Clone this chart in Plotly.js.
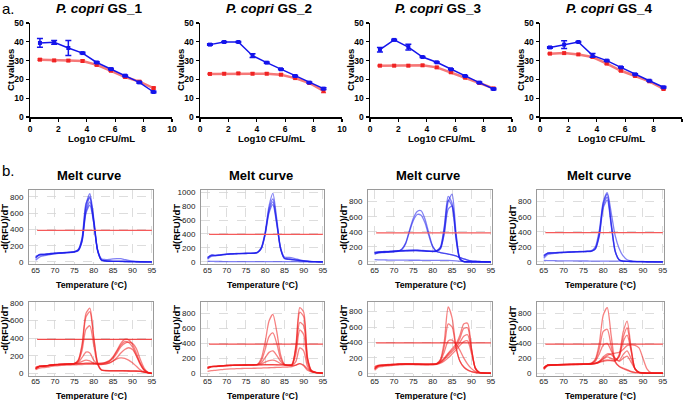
<!DOCTYPE html>
<html><head><meta charset="utf-8">
<script src="https://cdn.plot.ly/plotly-3.0.1.min.js"></script>
<style>html,body{margin:0;padding:0;background:#fff}#chart{width:685px;height:400px}</style>
</head><body><div id="chart"></div>
<script>
// ---------- Data: panel a (Ct values vs Log10 CFU/mL) ----------
const CFU = [0.7,1.7,2.7,3.7,4.7,5.7,6.7,7.7,8.7];
const gsNames = ['GS_1','GS_2','GS_3','GS_4'];
const ctBlue1 = [39.4,39.7,36.7,34.0,29.0,25.5,22.0,18.4,13.3];
const errBlue1 = [2.3,1.0,4.0,0.4,0.4,0.4,0.4,0.4,0.4];
const ctRed1 = [30.5,30.1,30.0,29.8,27.7,24.6,21.3,18.8,15.4];
const errRed1 = [0.4,0.4,0.4,0.4,0.4,0.4,0.4,0.4,0.5];
const ctBlue2 = [38.5,39.9,39.9,32.6,28.9,25.4,21.8,18.3,15.1];
const errBlue2 = [0.4,0.3,0.3,1.0,0.3,0.3,0.4,0.3,0.5];
const ctRed2 = [22.9,23.0,23.2,23.0,23.0,22.5,20.7,18.1,13.9];
const errRed2 = [0.3,0.3,0.3,0.3,0.3,0.4,0.3,0.3,1.0];
const ctBlue3 = [35.8,41.0,37.2,31.9,29.1,25.4,21.8,18.3,14.9];
const errBlue3 = [1.2,0.3,1.5,0.3,0.3,0.3,0.3,0.3,0.4];
const ctRed3 = [27.3,27.3,27.3,27.5,26.4,23.8,20.9,18.1,15.2];
const errRed3 = [0.3,0.3,0.3,0.3,0.3,0.3,0.3,0.3,0.3];
const ctBlue4 = [37.0,38.5,39.9,32.8,30.0,26.4,22.7,19.3,15.8];
const errBlue4 = [0.4,2.0,0.3,1.0,0.3,0.3,0.3,0.3,0.4];
const ctRed4 = [33.7,34.0,33.3,31.9,28.4,24.6,21.8,19.0,14.9];
const errRed4 = [0.3,0.3,0.3,0.3,0.3,0.3,0.3,0.3,0.4];

// ---------- Data: panel b (melt curves, -d(RFU)/dT vs temperature) ----------
const T = [65,66,67,68,69,70,71,72,73,74,75,76,77,78,79,80,81,82,83,84,85,86,87,88,89,90,91,92,93,94,95];
const meltBlue1 = [
 [45,95,95,100,105, 110,112,115,118,122, 128,150,290,700,840, 540,150,25,15,10, 8,8,8,7,6, 5,4,3,2,1, 0],
 [60,90,92,98,104, 108,111,114,117,120, 126,145,270,660,790, 520,145,24,14,10, 8,8,7,6,5, 4,3,3,2,1, 0],
 [70,88,90,95,100, 106,110,112,115,118, 124,140,260,620,740, 500,140,23,14,9, 8,7,7,6,5, 4,3,2,2,1, 0],
 [50,85,88,93,98, 104,108,110,113,116, 122,138,250,600,700, 480,135,22,13,9, 7,7,6,5,5, 4,3,2,1,1, 0],
 [20,60,75,85,95, 100,105,110,115,118, 124,150,300,720,800, 480,150,40,30,32, 38,42,40,30,20, 12,8,5,3,2, 1]
];
const meltBlue2 = [
 [50,100,95,100,108, 115,118,120,122,124, 125,126,128,140,210, 430,800,980,620,200, 55,45,38,30,22, 15,10,7,5,3, 2],
 [60,95,93,98,105, 112,116,118,120,122, 123,124,126,138,200, 410,760,900,580,190, 50,40,34,27,20, 14,9,6,4,3, 2],
 [70,92,92,97,104, 110,114,116,118,120, 121,122,124,135,195, 400,730,860,560,180, 48,38,32,25,18, 12,8,5,4,2, 1],
 [40,80,88,95,102, 108,112,115,118,120, 121,122,124,134,190, 390,700,820,540,200, 70,65,60,45,30, 18,10,6,4,2, 1],
 [10,8,7,7,6, 6,6,5,5,5, 5,5,5,5,5, 5,5,5,5,5, 4,4,4,4,3, 3,3,2,2,1, 0]
];
const meltBlue3 = [
 [120,125,128,130,133, 138,145,170,250,420, 580,670,680,570,380, 210,140,125,115,105, 95,80,60,40,25, 15,10,6,4,2, 1],
 [110,120,124,127,130, 135,142,165,240,400, 550,630,620,520,350, 200,140,125,115,105, 95,80,60,40,25, 15,10,6,4,2, 1],
 [130,135,138,140,143, 146,150,152,155,158, 160,160,155,150,145, 142,150,200,480,870, 780,330,40,5,3, 2,1,1,0,0, 0],
 [125,132,135,137,140, 143,146,148,150,152, 153,153,150,147,143, 140,148,190,450,820, 740,310,35,5,3, 2,1,1,0,0, 0],
 [120,130,133,135,138, 141,144,146,148,150, 151,151,148,145,142, 140,145,180,400,800, 900,400,50,6,3, 2,1,1,0,0, 0],
 [100,125,130,133,136, 139,142,144,146,148, 149,149,146,143,140, 138,142,175,380,700, 740,360,45,6,3, 2,1,1,0,0, 0],
 [30,28,27,26,25, 25,24,24,24,23, 23,23,22,22,22, 21,21,20,20,20, 18,15,10,6,4, 3,2,1,0,0, 0]
];
const meltBlue4 = [
 [70,120,122,125,128, 130,133,135,137,139, 140,142,145,180,380, 780,900,520,150,30, 10,8,6,5,4, 4,3,2,2,1, 1],
 [80,118,120,123,126, 128,131,133,135,137, 138,140,143,175,360, 750,860,500,140,28, 10,8,6,5,4, 4,3,2,2,1, 1],
 [90,115,118,121,124, 126,129,131,133,135, 136,138,141,170,340, 720,820,480,135,25, 9,7,6,5,4, 3,3,2,1,1, 1],
 [50,100,110,115,120, 124,128,130,133,136, 138,142,150,200,420, 800,920,650,350,180, 80,30,15,8,5, 4,3,2,1,1, 0],
 [20,18,17,16,15, 15,14,14,14,13, 13,13,12,12,12, 12,11,11,11,10, 10,9,9,8,7, 6,5,4,3,2, 1]
];
const meltRed1 = [
 [60,80,82,88,95, 100,102,104,106,108, 112,150,330,680,740, 420,120,40,32,30, 30,30,30,29,28, 27,26,24,15,5, 0],
 [50,75,80,86,92, 98,100,102,104,106, 110,145,310,640,700, 400,115,38,30,28, 28,28,28,27,26, 25,24,22,14,5, 0],
 [55,78,80,86,92, 98,100,102,104,106, 110,135,260,500,540, 320,100,35,30,28, 28,28,28,27,26, 25,24,22,14,5, 0],
 [50,80,82,88,94, 99,101,103,105,107, 110,125,180,240,230, 150,105,100,105,115, 140,180,230,270,290, 270,200,110,40,10, 0],
 [55,78,80,86,92, 97,99,101,103,105, 108,115,135,150,140, 115,105,105,115,135, 180,250,320,360,350, 300,200,100,35,8, 0],
 [70,82,84,88,94, 98,100,102,104,106, 108,110,112,115,115, 114,113,115,125,145, 190,260,340,385,380, 330,230,120,40,8, 0],
 [65,80,82,86,92, 96,98,100,102,104, 106,108,110,112,112, 112,111,112,120,135, 170,230,300,340,355, 340,280,160,60,12, 0],
 [40,60,65,70,78, 84,88,90,92,94, 96,98,100,102,103, 103,103,104,108,118, 140,165,175,170,150, 120,80,40,15,5, 0]
];
const meltRed2 = [
 [60,90,92,96,100, 104,106,108,109,110, 111,112,113,120,200, 420,700,790,560,250, 120,105,102,110,130, 100,40,20,12,6, 2],
 [70,88,90,94,98, 102,104,106,107,108, 109,110,111,118,170, 320,490,540,400,200, 115,105,105,160,340, 300,90,25,12,6, 2],
 [65,88,90,94,98, 102,104,106,107,108, 109,110,111,115,140, 210,280,300,240,160, 115,108,110,260,580, 520,140,30,12,6, 2],
 [80,90,92,96,100, 104,106,108,109,110, 111,112,112,114,125, 150,170,175,160,130, 112,108,115,350,820, 760,200,35,12,6, 2],
 [85,92,94,98,102, 106,108,110,111,112, 113,113,113,113,114, 115,115,115,114,113, 112,110,120,380,880, 820,220,40,14,6, 2],
 [75,90,92,96,100, 104,106,108,109,110, 111,112,112,112,113, 114,114,114,113,112, 111,109,118,330,680, 640,190,35,12,6, 2],
 [25,35,40,45,50, 55,58,60,62,64, 65,66,67,68,70, 72,74,76,78,80, 82,84,90,110,130, 110,60,25,10,5, 1]
];
const meltRed3 = [
 [60,100,105,108,112, 115,118,120,122,122, 121,120,118,117,117, 118,125,180,420,860, 720,350,160,80,40, 20,10,5,3,1, 0],
 [70,98,103,106,110, 113,116,118,120,120, 119,118,116,115,115, 116,122,170,350,640, 600,330,160,85,45, 22,10,5,3,1, 0],
 [50,95,100,104,108, 111,114,116,118,118, 117,116,115,114,114, 115,120,160,280,420, 430,380,300,200,120, 60,25,10,4,1, 0],
 [90,105,108,112,115, 118,120,122,123,123, 122,121,120,119,119, 120,125,150,200,260, 320,380,490,640,650, 330,60,10,4,1, 0],
 [80,100,104,108,112, 115,118,120,121,121, 120,119,118,117,117, 118,123,145,190,250, 300,360,450,580,590, 320,60,10,4,1, 0],
 [60,95,100,104,108, 111,114,116,117,117, 116,115,114,113,113, 114,120,140,180,230, 280,330,400,480,500, 300,70,12,4,1, 0],
 [40,80,88,94,100, 104,108,110,112,112, 111,110,109,108,108, 110,115,130,160,200, 250,300,360,410,420, 260,70,14,4,1, 0]
];
const meltRed4 = [
 [60,110,112,115,117, 118,120,121,122,123, 124,126,135,190,400, 780,880,500,160,90, 60,40,20,10,5, 3,2,1,0,0, 0],
 [70,108,110,113,115, 116,118,119,120,121, 122,124,132,175,330, 560,590,360,150,95, 70,50,25,12,5, 3,2,1,0,0, 0],
 [65,105,108,111,113, 114,116,117,118,119, 120,122,128,160,260, 380,400,300,200,160, 200,230,150,60,15, 5,2,1,0,0, 0],
 [80,112,114,116,118, 120,121,122,123,124, 125,126,128,135,150, 170,180,175,170,250, 550,700,350,60,10, 4,2,1,0,0, 0],
 [75,110,112,114,116, 118,119,120,121,122, 123,124,126,132,145, 160,170,168,165,230, 480,610,320,55,10, 4,2,1,0,0, 0],
 [70,108,110,112,114, 116,117,118,119,120, 121,122,124,130,150, 190,220,200,180,220, 420,510,300,60,12, 4,2,1,0,0, 0],
 [50,100,105,108,110, 112,114,115,116,117, 118,120,124,135,160, 200,240,260,270,280, 320,370,380,375,340, 200,60,10,2,0, 0],
 [60,105,108,110,112, 114,115,116,117,118, 119,120,122,130,160, 220,260,250,200,170, 250,300,200,60,12, 4,2,1,0,0, 0]
];
const thresholdTop = [390,395,385,390];
const thresholdBottom = [385,390,395,390];
const thresholdX = [65.4,95];

// ---------- Layout helpers ----------
const W = 685, H = 400;
const FONT = 'Arial, "Liberation Sans", sans-serif';
const fx = p => p / W;
const fy = p => 1 - p / H;

const lineDom = [[30,172],[200,342],[370,512],[540,682]];
const meltDom = [[29,153],[201,324],[368,492],[537,664]];
const lineY = [23,117];
const meltTopY = [190,264];
const meltBotY = [302,375.5];
const meltTopRange = [[-25,886],[-29,1029],[-27,955],[-27,955]];
const meltBotRange = [[-25,810],[-30,955],[-29,925],[-30,955]];

const ctB = [ctBlue1,ctBlue2,ctBlue3,ctBlue4];
const ctBe = [errBlue1,errBlue2,errBlue3,errBlue4];
const ctR = [ctRed1,ctRed2,ctRed3,ctRed4];
const ctRe = [errRed1,errRed2,errRed3,errRed4];
const meltTop = [meltBlue1,meltBlue2,meltBlue3,meltBlue4];
const meltBot = [meltRed1,meltRed2,meltRed3,meltRed4];

const BLUE = 'rgb(20,20,235)';
const RED = 'rgb(240,35,35)';
const traces = [];
const layout = {
  width: W, height: H, margin: {l:0,r:0,t:0,b:0},
  paper_bgcolor: '#fff', plot_bgcolor: '#fff', showlegend: false,
  font: {family: FONT, color: '#000'},
  annotations: []
};
const ann = (text, xpx, ypx, size, extra) => layout.annotations.push(Object.assign({
  text, x: fx(xpx), y: fy(ypx), xref: 'paper', yref: 'paper', showarrow: false,
  xanchor: 'center', yanchor: 'middle', font: {family: FONT, size, color: '#000'}
}, extra || {}));

for (let i = 0; i < 4; i++) {
  // line chart subplot
  const n = i + 1;
  const xa = 'x' + (n === 1 ? '' : n), ya = 'y' + (n === 1 ? '' : n);
  const common = {showline: true, linecolor: '#000', linewidth: 1.5, ticks: 'outside', ticklen: 3,
    tickwidth: 1.2, tickcolor: '#000', showgrid: false, zeroline: false,
    tickfont: {family: FONT, size: 8.5, weight: 'bold', color: '#000'}};
  layout['xaxis' + (n === 1 ? '' : n)] = Object.assign({}, common, {domain: [fx(lineDom[i][0]), fx(lineDom[i][1])],
    range: [0,10], dtick: 2, tick0: 0, anchor: ya});
  layout['yaxis' + (n === 1 ? '' : n)] = Object.assign({}, common, {domain: [fy(lineY[1]), fy(lineY[0])],
    range: [0,50], dtick: 10, tick0: 0, anchor: xa});
  traces.push({x: CFU, y: ctR[i], xaxis: xa, yaxis: ya, mode: 'lines+markers', hoverinfo: 'skip',
    line: {color: 'rgb(246,120,120)', width: 2.5}, marker: {symbol: 'square', size: 4, color: RED},
    error_y: {type: 'data', array: ctRe[i], color: RED, thickness: 1.2, width: 2.5}, cliponaxis: false});
  traces.push({x: CFU, y: ctB[i], xaxis: xa, yaxis: ya, mode: 'lines+markers', hoverinfo: 'skip',
    line: {color: BLUE, width: 1.5}, marker: {symbol: 'square', size: 4, color: BLUE},
    error_y: {type: 'data', array: ctBe[i], color: BLUE, thickness: 1.5, width: 3}, cliponaxis: false});
  const cx = (lineDom[i][0] + lineDom[i][1]) / 2;
  ann('<b><i>P. copri</i> ' + gsNames[i] + '</b>', cx - 2, 8, 13.5);
  ann('<b>Log10 CFU/mL</b>', cx, 138, 9.5);
  ann('<b>Ct values</b>', lineDom[i][0] - 20, 70, 9.5, {textangle: -90});

  // melt curve subplots (top row blue, bottom row red)
  for (let r = 0; r < 2; r++) {
    const m = 5 + i + r * 4;
    const mx = 'x' + m, my = 'y' + m;
    const yd = r === 0 ? meltTopY : meltBotY;
    const mcommon = {showline: true, mirror: true, linecolor: '#9a9a9a', linewidth: 1, ticks: '',
      showgrid: true, gridcolor: '#d4d4d4', griddash: 'dash', gridwidth: 0.8, zeroline: false,
      tickfont: {family: FONT, size: 8, color: '#222'}};
    layout['xaxis' + m] = Object.assign({}, mcommon, {domain: [fx(meltDom[i][0]), fx(meltDom[i][1])],
      range: [63.3, 95.3], tick0: 65, dtick: 5, anchor: my, ticklabelstandoff: -2});
    layout['yaxis' + m] = Object.assign({}, mcommon, {domain: [fy(yd[1]), fy(yd[0])],
      range: r === 0 ? meltTopRange[i] : meltBotRange[i], tick0: 0, dtick: 200, anchor: mx, ticklabelstandoff: 3});
    const curves = r === 0 ? meltTop[i] : meltBot[i];
    const col = r === 0 ? 'rgba(25,25,235,0.55)' : 'rgba(238,25,25,0.55)';
    curves.forEach(c => traces.push({x: T, y: c, xaxis: mx, yaxis: my, mode: 'lines', hoverinfo: 'skip',
      line: {color: col, width: 1.3, shape: 'spline', smoothing: 0.7}}));
    const thr = r === 0 ? thresholdTop[i] : thresholdBottom[i];
    traces.push({x: thresholdX, y: [thr, thr], xaxis: mx, yaxis: my, mode: 'lines', hoverinfo: 'skip',
      line: {color: r === 0 ? 'rgb(245,90,90)' : 'rgba(238,30,30,0.8)', width: 1.3}});
    const mcx = (meltDom[i][0] + meltDom[i][1]) / 2;
    ann('<b>Temperature (°C)</b>', mcx, r === 0 ? 285 : 396, 8.8);
    ann('<b>-d(RFU)/dT</b>', meltDom[i][0] - 25, r === 0 ? 229 : 330, 9.5, {textangle: -90});
    if (r === 0) ann('<b>Melt curve</b>', mcx - 2, 175, 13);
  }
}
ann('a.', 0, 9, 15, {xanchor: 'left'});
ann('b.', 0, 170, 15, {xanchor: 'left'});

Plotly.newPlot('chart', traces, layout, {staticPlot: true, displayModeBar: false});
</script>
</body></html>
